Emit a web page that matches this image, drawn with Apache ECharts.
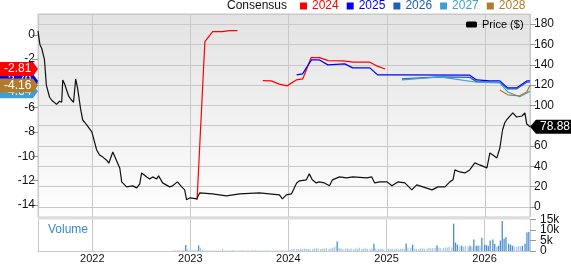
<!DOCTYPE html>
<html><head><meta charset="utf-8">
<script src="https://cdn.jsdelivr.net/npm/echarts@6/dist/echarts.min.js"></script>
<style>html,body{margin:0;padding:0;background:#fff}#c{width:571px;height:264px}</style>
</head><body><div id="c"></div>
<script>
// ---- data ----
const yearTicks = ['2022','2023','2024','2025','2026'];
const priceDates = ['2021-06-15','2021-06-22','2021-06-29','2021-07-09','2021-07-16','2021-07-28','2021-08-05','2021-08-23','2021-09-03','2021-09-11','2021-09-15','2021-09-22','2021-09-29','2021-10-07','2021-10-18','2021-10-25','2021-11-02','2021-11-09','2021-11-20','2021-11-28','2021-12-13','2021-12-20','2022-01-01','2022-01-08','2022-01-19','2022-01-30','2022-02-11','2022-02-25','2022-03-05','2022-03-20','2022-03-27','2022-04-15','2022-04-22','2022-05-10','2022-06-02','2022-06-17','2022-06-28','2022-07-05','2022-07-24','2022-08-04','2022-08-15','2022-08-30','2022-09-06','2022-09-21','2022-10-17','2022-10-28','2022-11-15','2022-12-01','2022-12-12','2022-12-19','2023-01-01','2023-01-26','2023-02-06','2023-03-25','2023-05-16','2023-07-04','2023-09-16','2023-11-29','2023-12-10','2023-12-25','2024-01-13','2024-02-01','2024-02-12','2024-03-08','2024-03-19','2024-03-30','2024-04-14','2024-04-25','2024-05-14','2024-06-02','2024-06-13','2024-07-09','2024-08-05','2024-08-27','2024-10-19','2024-11-06','2024-11-17','2024-12-06','2025-01-02','2025-01-20','2025-02-11','2025-03-09','2025-04-04','2025-04-22','2025-05-15','2025-06-18','2025-07-10','2025-08-05','2025-08-23','2025-09-04','2025-09-11','2025-09-29','2025-10-18','2025-11-05','2025-11-24','2025-12-12','2026-01-08','2026-01-19','2026-01-30','2026-02-14','2026-02-25','2026-03-07','2026-03-15','2026-03-22','2026-04-14','2026-04-28','2026-05-18','2026-05-29','2026-06-05','2026-06-17'];
const priceValues = [173.4,160,156,145,120,108,105,101,104,103,125,121,120,109,105,103,126,117,97,85.6,80.7,82.6,73.8,72.8,56,51,49,46,43,54,55,38,24.6,19.7,20.7,18.7,22.6,33.4,29.5,27.5,29.5,27.5,30.5,23.6,19.7,20.7,24.6,19.7,16.7,6.9,8.9,7.9,13.8,12.8,10.8,12.8,13.8,11.8,7.9,11.8,12.8,23.6,25.6,26.6,32.5,26.6,23.6,24.6,23.6,20.7,26.6,29.5,28.5,29.5,28.5,29.5,23.6,24.6,24.6,20.7,24.6,23.6,16.7,21.6,19.7,16.7,19.7,19.7,24.6,26.6,36.4,34.4,33.4,36.4,43.3,41.3,38.4,53.1,51.1,48.2,58,75.7,82.6,85.6,92.5,88.5,89.5,92.5,81.6,78.88];

const cons2024Dates = ['2023-01-27','2023-02-25','2023-03-26','2023-05-01','2023-05-27','2023-06-26','2023-08-10','2023-09-28','2023-10-29','2023-11-29','2023-12-27','2024-01-31','2024-02-24','2024-03-26','2024-04-26','2024-05-28','2024-07-23','2024-08-29','2024-10-30','2024-11-24','2024-12-26'];
const cons2024Values = [-13.59,-0.55,0.27,0.27,0.35,0.35,null,-3.76,-3.79,-4.06,-4.2,-3.71,-3.62,-1.87,-1.87,-2.12,-2.14,-2.25,-2.25,-2.55,-2.81];
const cons2025Dates = ['2024-02-01','2024-02-23','2024-03-27','2024-04-26','2024-05-27','2024-07-29','2024-08-27','2024-10-30','2024-11-28','2025-02-19','2025-11-05','2025-12-01','2026-01-19','2026-02-25','2026-03-26','2026-04-28','2026-06-05','2026-06-17'];
const cons2025Values = [-3.29,-3.21,-2.06,-2.06,-2.47,-2.39,-2.72,-2.72,-3.29,-3.29,-3.32,-3.71,-3.79,-3.79,-4.37,-4.37,-3.79,-3.79];
const cons2026Dates = ['2025-02-26','2025-07-17','2025-11-05','2025-12-01','2026-02-25','2026-03-26','2026-04-28','2026-06-05','2026-06-17'];
const cons2026Values = [-3.62,-3.46,-3.5,-3.85,-3.9,-4.45,-4.45,-3.9,-3.9];
const cons2027Dates = ['2025-02-26','2025-07-17','2025-12-01','2026-02-25','2026-03-26','2026-05-10','2026-06-17'];
const cons2027Values = [-3.7,-3.46,-3.9,-3.95,-4.7,-5.1,-4.64];
const cons2028Dates = ['2026-02-25','2026-03-26','2026-05-10','2026-06-05','2026-06-17'];
const cons2028Values = [-4.53,-4.94,-5.02,-4.7,-4.16];

const volMonths = ['2022-11','2022-12','2023-01','2023-02','2023-03','2023-04','2023-05','2023-06','2023-07','2023-08','2023-09','2023-10','2023-11','2023-12','2024-01','2024-02','2024-03','2024-04','2024-05','2024-06','2024-07','2024-08','2024-09','2024-10','2024-11','2024-12','2025-01','2025-02','2025-03','2025-04','2025-05','2025-06','2025-07','2025-08','2025-09','2025-10','2025-11','2025-12','2026-01','2026-02','2026-03','2026-04','2026-05','2026-06'];
const volWeekDays = ['01','08','15','22'];
const volValues = [[0.2,0.2,0.3,0.3],[0.3,0.4,2.9,0.8],[0.5,0.4,0.3,0.3],[2.6,1.5,0.6,0.3],[0.3,0.2,0.2,0.2],[0.2,0.2,0.2,0.2],[1.0,0.2,0.2,0.2],[0.2,0.3,0.2,0.2],[0.2,0.2,0.3,0.2],[0.2,0.2,0.2,0.3],[0.4,0.2,0.2,0.2],[0.2,0.3,0.2,0.2],[0.2,0.2,0.2,0.2],[0.2,0.3,0.2,0.2],[0.3,0.4,0.8,0.9],[1.0,0.9,1.1,1.0],[1.2,1.0,0.9,1.1],[1.0,1.2,1.3,1.1],[1.0,1.2,1.1,1.4],[1.1,1.3,1.5,2.0],[4.5,1.5,1.2,1.0],[1.1,1.3,1.0,1.2],[1.0,1.2,1.1,1.6],[1.0,1.2,1.3,1.0],[1.0,1.2,3.5,1.2],[1.0,1.1,0.9,0.8],[1.0,1.2,0.9,1.1],[1.0,1.2,0.8,1.0],[1.2,1.0,3.6,1.5],[1.5,3.0,1.2,1.0],[1.0,1.2,1.3,1.1],[1.2,1.5,1.3,1.4],[1.5,2.6,1.5,1.3],[1.4,1.8,1.5,2.0],[1.8,13.0,4.0,3.0],[2.2,2.5,2.0,2.4],[2.2,2.5,2.0,5.5],[2.5,2.6,2.4,6.3],[3.0,2.8,2.5,5.0],[5.5,3.3,2.0,2.5],[5.0,14.3,5.8,6.7],[3.5,3.0,2.5,2.2],[2.0,2.4,2.2,2.5],[3.4,8.8,9.0]];
const volTickValues = [0, 5, 10, 15];
const volTicks = ['0','5k','10k','15k'];

const flagLabels = {'2024':'-2.81','2025':'-3.79','2026':'-3.90','2027':'-4.64','2028':'-4.16'};
const priceLabel = '78.88';

// ---- build ----
const FONT = "'Liberation Sans', Arial, sans-serif";
const pair = (d, v) => d.map((x, i) => [x, v[i]]);
const volData = [];
volMonths.forEach((m, i) => volValues[i].forEach((v, j) => volData.push([m + '-' + volWeekDays[j], v])));

const cols = {'2024':'#ff0000','2025':'#0000ff','2026':'#1e5fb4','2027':'#3d9fd2','2028':'#b27a2c'};
const consSeries = [
  ['2024', cons2024Dates, cons2024Values],
  ['2025', cons2025Dates, cons2025Values],
  ['2026', cons2026Dates, cons2026Values],
  ['2027', cons2027Dates, cons2027Values],
  ['2028', cons2028Dates, cons2028Values]
].map(([n, d, v]) => ({
  name: n, type: 'line', xAxisIndex: 0, yAxisIndex: 0, data: pair(d, v),
  showSymbol: false, connectNulls: false, lineStyle: {width: 1.2, color: cols[n]}, itemStyle: {color: cols[n]}, z: 3
}));

const xMin = '2021-06-15', xMax = '2026-06-17';
const chart = echarts.init(document.getElementById('c'), null, {renderer: 'canvas'});
const option = {
  animation: false,
  textStyle: {fontFamily: FONT},
  grid: [
    {left: 38, right: 41, top: 14, height: 203, show: true, borderColor: '#c8c8c8', borderWidth: 1,
     backgroundColor: new echarts.graphic.LinearGradient(0, 0, 0, 1, [{offset: 0, color: '#e3e3e3'}, {offset: 1, color: '#fefefe'}])},
    {left: 38, right: 41, top: 219.5, height: 33.5, show: true, borderWidth: 0, backgroundColor: '#fff'}
  ],
  legend: [
    {left: 300, top: 0, padding: 0, itemWidth: 7, itemHeight: 7, itemGap: 8, icon: 'rect',
     textStyle: {fontSize: 12, fontFamily: FONT},
     data: ['2024','2025','2026','2027','2028'].map(n => ({name: n, textStyle: {color: cols[n]}}))},
    {left: 466, top: 19, padding: 0, itemWidth: 11, itemHeight: 6, icon: 'roundRect',
     textStyle: {fontSize: 11, color: '#000', fontFamily: FONT}, data: ['Price ($)']}
  ],
  xAxis: [
    {type: 'time', gridIndex: 0, min: xMin, max: xMax, splitNumber: 5,
     axisLine: {show: false}, axisTick: {show: false}, axisLabel: {show: false},
     splitLine: {show: true, lineStyle: {color: '#c8c8c8', width: 1}}},
    {type: 'time', gridIndex: 1, min: xMin, max: xMax, splitNumber: 5,
     axisLine: {show: true, lineStyle: {color: '#c8c8c8'}}, axisTick: {show: false},
     axisLabel: {fontSize: 11, color: '#111', margin: 2, formatter: v => { const y = String(new Date(v).getFullYear()); return yearTicks.includes(y) ? y : ''; }, hideOverlap: false},
     splitLine: {show: true, lineStyle: {color: '#c8c8c8', width: 1}}}
  ],
  yAxis: [
    {type: 'value', gridIndex: 0, position: 'left', min: -15, max: 1.72, splitNumber: 8,
     axisLine: {show: false}, axisTick: {show: true, length: 6, lineStyle: {color: '#999'}},
     axisLabel: {fontSize: 12, color: '#111', margin: 3, showMinLabel: false, showMaxLabel: false},
     splitLine: {show: false}},
    {type: 'value', gridIndex: 0, position: 'right', min: -10, max: 190, splitNumber: 10,
     axisLine: {show: false}, axisTick: {show: true, length: 6, lineStyle: {color: '#999'}},
     axisLabel: {fontSize: 12, color: '#111', margin: 4, showMinLabel: false, showMaxLabel: false},
     splitLine: {show: true, lineStyle: {color: '#c8c8c8', width: 1}}},
    {type: 'value', gridIndex: 1, position: 'right', min: 0, max: 15, interval: 5,
     axisLine: {show: false}, axisTick: {show: true, length: 6, lineStyle: {color: '#999'}},
     axisLabel: {show: false},
     splitLine: {show: false}}
  ],
  series: [
    ...consSeries,
    {name: 'Price ($)', type: 'line', xAxisIndex: 0, yAxisIndex: 1, data: pair(priceDates, priceValues),
     showSymbol: false, lineStyle: {width: 1.2, color: '#111'}, itemStyle: {color: '#000'}, z: 4},
    {name: 'Volume', type: 'bar', xAxisIndex: 1, yAxisIndex: 2, data: volData, barWidth: 1.3,
     itemStyle: {color: p => p.value[1] >= 2.5 ? '#4a8fd0' : '#a9c9ea'}}
  ]
};
chart.setOption(option);

// ---- overlays (flags, labels) ----
const g = [];
g.push({type: 'text', x: 227, y: 6, z: 50, style: {text: 'Consensus', fill: '#111', fontSize: 12, fontFamily: FONT, verticalAlign: 'middle'}});
g.push({type: 'text', x: 48, y: 230, z: 50, style: {text: 'Volume', fill: '#3a88c8', fontSize: 12, fontFamily: FONT, verticalAlign: 'middle'}});
g.push({type: 'rect', shape: {x: 38, y: 217, width: 492, height: 2.5}, style: {fill: '#dcdcdc'}, z: 40});
volTickValues.forEach((v, i) => {
  const y = chart.convertToPixel({yAxisIndex: 2}, v);
  g.push({type: 'text', x: 540, y, z: 50, style: {text: volTicks[i], fill: '#111', fontSize: 12, fontFamily: FONT, verticalAlign: 'middle'}});
});
function flag(val, color, text, z) {
  const y = chart.convertToPixel({yAxisIndex: 0}, val);
  g.push({type: 'polygon', z, shape: {points: [[0, y - 7], [33, y - 7], [38, y], [33, y + 7], [0, y + 7]]}, style: {fill: color}});
  g.push({type: 'text', z: z + 1, x: 4, y, style: {text, fill: '#fff', fontSize: 12, fontFamily: FONT, verticalAlign: 'middle'}});
}
flag(+flagLabels['2027'], cols['2027'], flagLabels['2027'], 60);
flag(+flagLabels['2026'], cols['2026'], flagLabels['2026'], 62);
flag(+flagLabels['2025'], cols['2025'], flagLabels['2025'], 64);
flag(+flagLabels['2028'], cols['2028'], flagLabels['2028'], 66);
flag(+flagLabels['2024'], cols['2024'], flagLabels['2024'], 68);
const py = chart.convertToPixel({yAxisIndex: 1}, +priceLabel);
g.push({type: 'polygon', z: 70, shape: {points: [[530, py], [536, py - 7], [571, py - 7], [571, py + 7], [536, py + 7]]}, style: {fill: '#000'}});
g.push({type: 'text', z: 71, x: 540, y: py, style: {text: priceLabel, fill: '#fff', fontSize: 12, fontFamily: FONT, verticalAlign: 'middle'}});
chart.setOption({graphic: g});
</script></body></html>
